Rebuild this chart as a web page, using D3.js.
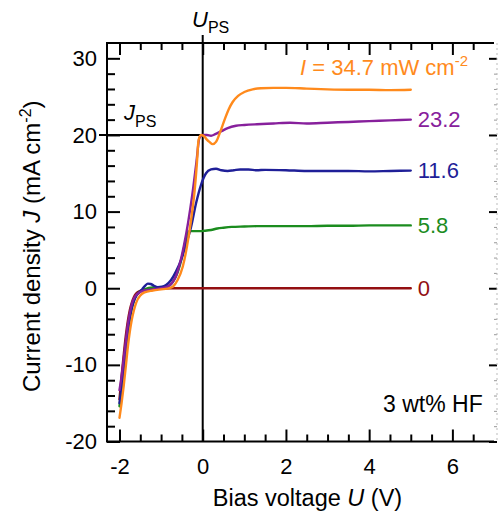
<!DOCTYPE html>
<html><head><meta charset="utf-8">
<script src="https://cdn.jsdelivr.net/npm/d3@7"></script>
<style>
body{margin:0;background:#fff}
svg{display:block;font-family:"Liberation Sans",Arial,Helvetica,sans-serif}
</style>
</head><body><svg id="c" width="498" height="526"></svg>
<script>
// ---- data (bias voltage U in V, current density J in mA cm^-2) ----
const seriesLabels = ["0", "5.8", "11.6", "23.2", "34.7"];
const seriesColors = ["#930f12", "#1b8c1e", "#1f1f98", "#87209c", "#ff8a1c"];

const uRed = [-2.0,-1.95,-1.9,-1.85,-1.8,-1.75,-1.7,-1.65,-1.6,-1.5,-1.4,-1.2,-1.0,-0.8,-0.6,0,1,2,3,4,5];
const jRed = [-14.5,-11.5,-8.8,-6.3,-4.3,-2.8,-1.8,-1.1,-0.7,-0.35,-0.2,-0.1,-0.05,0,0,0,0,0,0,0,0];

const uGreen = [-2.0,-1.95,-1.9,-1.85,-1.8,-1.75,-1.7,-1.65,-1.6,-1.5,-1.4,-1.3,-1.2,-1.0,-0.85,-0.72,-0.6,-0.5,-0.42,-0.36,-0.3,-0.2,-0.08,0.05,0.2,0.35,0.5,0.7,1.0,1.3,1.6,2.0,2.5,3.0,3.5,4.0,4.5,5.0];
const jGreen = [-15.4,-13.2,-10.8,-8.2,-5.8,-3.9,-2.5,-1.6,-1.0,-0.4,-0.15,0.05,0.1,0.05,0.2,0.8,2.1,4.0,6.0,7.3,7.45,7.45,7.45,7.5,7.6,7.8,7.9,8.0,8.05,8.1,8.1,8.1,8.1,8.15,8.15,8.2,8.2,8.2];

const uBlue = [-2.0,-1.95,-1.9,-1.85,-1.8,-1.75,-1.7,-1.65,-1.6,-1.5,-1.45,-1.38,-1.32,-1.25,-1.18,-1.08,-0.98,-0.88,-0.76,-0.64,-0.52,-0.39,-0.28,-0.16,-0.04,0.08,0.2,0.32,0.45,0.6,0.75,0.9,1.1,1.3,1.5,2.0,2.5,3.0,3.5,4.0,4.5,5.0];
const jBlue = [-15.0,-13.0,-10.6,-8.0,-5.6,-3.8,-2.5,-1.6,-1.0,-0.4,-0.1,0.35,0.6,0.55,0.35,0.15,0.2,0.43,1.08,2.2,3.7,5.9,8.0,11.1,13.5,15.0,15.5,15.6,15.4,15.3,15.4,15.5,15.5,15.4,15.45,15.4,15.3,15.3,15.3,15.25,15.3,15.35];

const uPurple = [-2.0,-1.95,-1.9,-1.85,-1.8,-1.75,-1.7,-1.65,-1.6,-1.5,-1.4,-1.2,-1.0,-0.85,-0.75,-0.65,-0.55,-0.45,-0.35,-0.25,-0.15,-0.08,0,0.1,0.2,0.3,0.45,0.6,0.8,1.0,1.3,1.7,2.1,2.5,3.0,3.5,4.0,4.5,5.0];
const jPurple = [-13.3,-11.5,-9.3,-7.0,-4.8,-3.2,-2.0,-1.3,-0.9,-0.5,-0.3,-0.15,0,0.2,0.6,1.5,3.2,5.6,8.6,12.2,16.5,19.6,20.0,20.0,19.9,20.1,20.5,20.9,21.2,21.3,21.4,21.5,21.6,21.5,21.6,21.7,21.8,21.9,22.0];

const uOrange = [-2.0,-1.95,-1.9,-1.85,-1.8,-1.75,-1.7,-1.65,-1.6,-1.5,-1.4,-1.2,-1.0,-0.85,-0.72,-0.6,-0.48,-0.38,-0.28,-0.2,-0.14,-0.1,-0.04,0.04,0.1,0.16,0.24,0.32,0.42,0.52,0.62,0.72,0.85,1.0,1.2,1.4,1.7,2.0,2.5,3.0,3.5,4.0,4.5,5.0];
const jOrange = [-16.9,-15.0,-12.8,-10.3,-7.7,-5.6,-4.0,-2.8,-1.9,-0.95,-0.55,-0.3,-0.15,-0.05,0.2,1.1,2.8,5.4,8.9,12.4,16.3,19.3,20.0,19.8,19.4,19.1,18.8,19.1,20.4,21.9,23.3,24.3,25.1,25.6,25.95,26.1,26.15,26.15,26.05,25.95,25.9,25.9,25.85,25.9];

const xMajorTicks = [-2, 0, 2, 4, 6];
const yMajorTicks = [-20, -10, 0, 10, 20, 30];
const uPS = 0, jPS = 20;

// ---- layout ----
const svg = d3.select("#c");
const x = d3.scaleLinear().domain([-2.3, 7.0]).range([107, 494]);
const y = d3.scaleLinear().domain([-20, 32]).range([441.5, 43]);
const X0 = x.range()[0], X1 = x.range()[1], Y0 = y.range()[0], Y1 = y.range()[1];
const FS = 22;

const xMinor = d3.range(-2, 7, 0.5).filter(v => !xMajorTicks.includes(v));
const yMinor = d3.range(-20, 32, 2).filter(v => !yMajorTicks.includes(v));

function styleAxis(g) {
  g.select(".domain").remove();
  g.selectAll(".tick line").attr("stroke", "#000").attr("stroke-width", 2);
  g.selectAll(".tick text").attr("fill", "#000").style("font-size", FS + "px");
}
const fmt = d => String(d);

// bottom
svg.append("g").attr("transform", `translate(0,${Y0})`)
  .call(d3.axisBottom(x).tickValues(xMajorTicks).tickSize(-12).tickPadding(17).tickFormat(fmt)).call(styleAxis);
svg.append("g").attr("transform", `translate(0,${Y0})`)
  .call(d3.axisBottom(x).tickValues(xMinor).tickSize(-7).tickFormat("")).call(styleAxis);
// top
svg.append("g").attr("transform", `translate(0,${Y1})`)
  .call(d3.axisTop(x).tickValues(xMajorTicks).tickSize(-12).tickFormat("")).call(styleAxis);
svg.append("g").attr("transform", `translate(0,${Y1})`)
  .call(d3.axisTop(x).tickValues(xMinor).tickSize(-7).tickFormat("")).call(styleAxis);
// left
svg.append("g").attr("transform", `translate(${X0},0)`)
  .call(d3.axisLeft(y).tickValues(yMajorTicks).tickSize(-13).tickPadding(10).tickFormat(fmt)).call(styleAxis);
svg.append("g").attr("transform", `translate(${X0},0)`)
  .call(d3.axisLeft(y).tickValues(yMinor).tickSize(-8).tickFormat("")).call(styleAxis);
// right (cropped edge)
const XR = 497;
svg.append("g").attr("transform", `translate(${XR},0)`)
  .call(d3.axisRight(y).tickValues(yMajorTicks).tickSize(-8).tickFormat("")).call(styleAxis);
svg.append("g").attr("transform", `translate(${XR},0)`)
  .call(d3.axisRight(y).tickValues(yMinor).tickSize(-3).tickFormat("")).call(g => { styleAxis(g); g.selectAll(".tick line").attr("stroke", "#999").attr("stroke-width", 1); });

// frame
svg.append("path").attr("fill", "none").attr("stroke", "#000").attr("stroke-width", 2)
  .attr("d", `M${X1},${Y1}H${X0}V${Y0}H${X1}`);
svg.append("line").attr("x1", XR).attr("x2", XR).attr("y1", Y1).attr("y2", Y0)
  .attr("stroke", "#bbb").attr("stroke-width", 1).attr("stroke-dasharray", "2,3");

// reference lines U_PS and J_PS
svg.append("line").attr("x1", x(uPS)).attr("x2", x(uPS)).attr("y1", 35).attr("y2", Y0)
  .attr("stroke", "#000").attr("stroke-width", 2);
svg.append("line").attr("x1", 99).attr("x2", x(uPS)).attr("y1", y(jPS)).attr("y2", y(jPS))
  .attr("stroke", "#000").attr("stroke-width", 2);

// curves
const series = [
  {u: uRed, j: jRed}, {u: uGreen, j: jGreen}, {u: uBlue, j: jBlue},
  {u: uPurple, j: jPurple}, {u: uOrange, j: jOrange}
];
const line = d3.line().x(d => x(d[0])).y(d => y(d[1])).curve(d3.curveMonotoneX);
series.forEach((s, i) => {
  svg.append("path").datum(d3.zip(s.u, s.j))
    .attr("fill", "none").attr("stroke", seriesColors[i]).attr("stroke-width", 2.4)
    .attr("stroke-linejoin", "round").attr("stroke-linecap", "round").attr("d", line);
});

// series labels (0 .. 23.2) at line ends
series.slice(0, 4).forEach((s, i) => {
  const last = s.j[s.j.length - 1];
  svg.append("text").attr("x", x(s.u[s.u.length - 1]) + 7).attr("y", y(last) + 7.5)
    .attr("fill", seriesColors[i]).style("font-size", FS + "px").text(seriesLabels[i]);
});
// intensity label for top curve
const tl = svg.append("text").attr("x", 300).attr("y", 75).attr("fill", seriesColors[4]).style("font-size", FS + "px");
tl.append("tspan").style("font-style", "italic").text("I");
tl.append("tspan").text(" = " + seriesLabels[4] + " mW cm");
tl.append("tspan").attr("dy", -9).style("font-size", "15px").text("-2");

// U_PS / J_PS labels
const ul = svg.append("text").attr("x", 192).attr("y", 27).style("font-size", FS + "px");
ul.append("tspan").style("font-style", "italic").text("U");
ul.append("tspan").attr("dy", 6).style("font-size", "16px").text("PS");
const jl = svg.append("text").attr("x", 124).attr("y", 120).style("font-size", FS + "px");
jl.append("tspan").style("font-style", "italic").text("J");
jl.append("tspan").attr("dy", 7).style("font-size", "16px").text("PS");

// annotation
svg.append("text").attr("x", 383).attr("y", 412).style("font-size", "23px").text("3 wt% HF");

// axis titles
const xt = svg.append("text").attr("x", (X0 + X1) / 2 + 7).attr("y", 506).attr("text-anchor", "middle").style("font-size", "23.5px");
xt.append("tspan").text("Bias voltage ");
xt.append("tspan").style("font-style", "italic").text("U");
xt.append("tspan").text(" (V)");

const yt = svg.append("text").attr("transform", `translate(40,${(Y0 + Y1) / 2 + 4}) rotate(-90)`)
  .attr("text-anchor", "middle").style("font-size", "24px");
yt.append("tspan").text("Current density ");
yt.append("tspan").style("font-style", "italic").text("J");
yt.append("tspan").text(" (mA cm");
yt.append("tspan").attr("dy", -9).style("font-size", "16px").text("-2");
yt.append("tspan").attr("dy", 9).text(")");
</script>
</body></html>
